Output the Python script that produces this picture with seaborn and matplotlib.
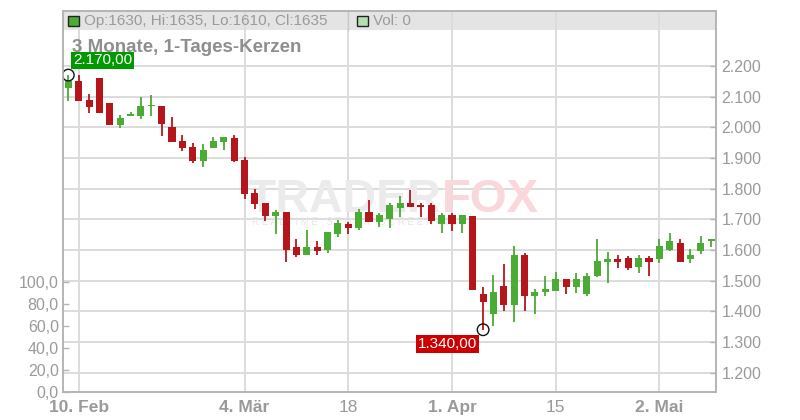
import numpy as np
import pandas as pd
import matplotlib
matplotlib.use("Agg")
import matplotlib.pyplot as plt
from matplotlib.patches import Rectangle
import seaborn as sns

opens = [2129, 2151, 2089, 2161, 2079, 2009, 2038, 2038, 2068, 2070,
         2002, 1955, 1936, 1890, 1934, 1953, 1964, 1893, 1786, 1752,
         1712, 1723, 1610, 1582, 1610, 1601, 1652, 1685, 1673, 1723,
         1692, 1702, 1738, 1753, 1745, 1745, 1686, 1715, 1686, 1712,
         1457, 1392, 1481, 1421, 1583, 1451, 1462, 1467, 1505, 1480,
         1458, 1516, 1562, 1571, 1574, 1546, 1574, 1572, 1601, 1623,
         1572, 1598, 1630]
highs = [2170, 2170, 2109, 2161, 2079, 2040, 2051, 2099, 2105, 2070,
         2032, 1975, 1949, 1945, 1968, 1968, 1975, 1902, 1799, 1752,
         1730, 1723, 1637, 1666, 1629, 1659, 1697, 1692, 1735, 1762,
         1720, 1754, 1776, 1796, 1752, 1752, 1722, 1722, 1715, 1712,
         1479, 1517, 1554, 1612, 1591, 1473, 1515, 1528, 1505, 1525,
         1525, 1636, 1592, 1584, 1580, 1584, 1580, 1636, 1655, 1636,
         1603, 1645, 1635]
lows = [2087, 2087, 2048, 2048, 2009, 1998, 2038, 2028, 2037, 1973,
        1953, 1923, 1882, 1872, 1934, 1927, 1888, 1765, 1733, 1693,
        1653, 1562, 1578, 1582, 1582, 1591, 1641, 1653, 1665, 1692,
        1676, 1673, 1709, 1741, 1709, 1684, 1654, 1663, 1654, 1471,
        1340, 1353, 1402, 1366, 1402, 1392, 1451, 1467, 1456, 1461,
        1451, 1512, 1493, 1542, 1536, 1526, 1516, 1559, 1598, 1562,
        1559, 1588, 1610]
closes = [2152, 2087, 2067, 2048, 2009, 2030, 2041, 2070, 2070, 2011,
          1953, 1934, 1890, 1926, 1955, 1968, 1891, 1784, 1751, 1712,
          1723, 1599, 1582, 1610, 1598, 1659, 1687, 1673, 1723, 1692,
          1714, 1745, 1753, 1741, 1739, 1696, 1715, 1684, 1715, 1471,
          1431, 1463, 1421, 1583, 1451, 1462, 1473, 1505, 1480, 1505,
          1515, 1564, 1571, 1562, 1542, 1574, 1562, 1613, 1629, 1562,
          1584, 1623, 1635]
volume = 0

start_day = "2025-02-07"
end_day = "2025-05-09"
holidays = ["2025-04-18", "2025-04-21", "2025-05-01"]

tick_days = ["2025-02-10", "2025-03-04", "2025-03-18", "2025-04-01", "2025-04-15", "2025-05-02"]
tick_labels = ["10. Feb", "4. Mär", "18", "1. Apr", "15", "2. Mai"]
bold_labels = ["10. Feb", "4. Mär", "1. Apr", "2. Mai"]

price_ticks = [1200, 1300, 1400, 1500, 1600, 1700, 1800, 1900, 2000, 2100, 2200]
vol_ticks = [0, 20, 40, 60, 80, 100]

title = "3 Monate, 1-Tages-Kerzen"

# Handelstage
days = pd.bdate_range(start_day, end_day)
days = days[~days.isin(pd.to_datetime(holidays))]
df = pd.DataFrame({"date": days, "open": opens, "high": highs, "low": lows, "close": closes})
df["x"] = np.arange(len(df))
df["up"] = df["close"] >= df["open"]

green = "#4aab35"
red = "#b5161b"
grey_txt = "#9a9a9a"
grid_c = "#dcdcdc"
spine_c = "#b4b4b4"

sns.set_style("white")
plt.rcParams["font.family"] = ["Liberation Sans", "DejaVu Sans"]

fig = plt.figure(figsize=(8, 4.2), dpi=100)
W, H = 800, 420
ax = fig.add_axes([63 / W, 1 - 392 / H, (716 - 63) / W, (392 - 11) / H])
ax2 = ax.twinx()  # Volumen-Achse (links)

# Kerzen
cols = np.where(df["up"], green, red)
ax.vlines(df["x"], df["low"], df["high"], colors=cols, linewidth=1.3, zorder=3)
body = np.maximum((df["close"] - df["open"]).abs(), 5)
ax.bar(df["x"], body, bottom=np.minimum(df["open"], df["close"]),
       width=0.68, color=cols, linewidth=0, zorder=4)

ax.set_xlim(-0.51, 62.46)
ax.set_ylim(1137, 2379)

# Preis-Achse rechts
ax.yaxis.tick_right()
ax.set_yticks(price_ticks)
ax.set_yticklabels([f"{v:,}".replace(",", ".") for v in price_ticks])
tick_pos = [int(np.where(df["date"] == pd.Timestamp(d))[0][0]) for d in tick_days]
ax.set_xticks(tick_pos)
ax.set_xticklabels(tick_labels)
for lab in ax.get_xticklabels():
    lab.set_fontfamily(["Liberation Sans Narrow", "Liberation Sans"])
    if lab.get_text() in bold_labels:
        lab.set_fontweight("bold")
ax.tick_params(axis="y", direction="in", length=4, width=1, color=spine_c,
               labelcolor=grey_txt, labelsize=11.5, pad=4, right=True, left=False,
               labelright=True, labelleft=False)
ax.tick_params(axis="x", direction="out", length=4, width=1, color=spine_c,
               labelcolor=grey_txt, labelsize=12.5, pad=2)
ax.set_axisbelow(True)
ax.grid(True, color=grid_c, linewidth=1.4)
for s in ax.spines.values():
    s.set_color(spine_c)
    s.set_linewidth(1.2)
    s.set_visible(True)

# Volumen-Achse links
ax2.set_ylim(0, 345.4)
ax2.set_yticks(vol_ticks)
ax2.set_yticklabels([f"{v:.1f}".replace(".", ",") for v in vol_ticks])
ax2.tick_params(axis="y", direction="in", length=4, width=1, color=spine_c,
                labelcolor=grey_txt, labelsize=11.5, pad=3, left=True, right=False,
                labelleft=True, labelright=False)
ax2.grid(False)
for s in ax2.spines.values():
    s.set_color(spine_c)
    s.set_linewidth(1.2)

# Wasserzeichen
ax.text(248 / W, 1 - 212 / H, "TRADER", transform=fig.transFigure, fontsize=33.5,
        fontweight="bold", color="#ebebeb", zorder=1)
ax.text(442 / W, 1 - 212 / H, "FOX", transform=fig.transFigure, fontsize=34,
        fontweight="bold", color="#fad7da", zorder=1)
ax.text(252 / W, 1 - 225 / H, "R E A L T I M E   S T O C K   S C R E E N I N G",
        transform=fig.transFigure, fontsize=7, color="#e6e6e6", zorder=1)

# Kopfzeile
ax.add_patch(Rectangle((0, (392 - 30) / 381), 1, 19 / 381, transform=ax.transAxes,
                       facecolor="#e4e4e4", edgecolor="none", zorder=0.2))
ax.plot([(348 - 63) / 653] * 2, [(392 - 30) / 381, 1], transform=ax.transAxes,
        color="#c8c8c8", linewidth=1, zorder=0.6)
fig.add_artist(Rectangle((68 / W, 1 - 26 / H), 11 / W, 10 / H, transform=fig.transFigure,
                         facecolor=green, edgecolor="#222222", linewidth=1))
fig.add_artist(Rectangle((357 / W, 1 - 26 / H), 11 / W, 10 / H, transform=fig.transFigure,
                         facecolor="#b3dfb0", edgecolor="#222222", linewidth=1))
last = df.iloc[-1]
fig.text(84 / W, 1 - 21 / H,
         f"Op:{last['open']}, Hi:{last['high']}, Lo:{last['low']}, Cl:{last['close']}",
         va="center", fontsize=11, color=grey_txt)
fig.text(373 / W, 1 - 21 / H, f"Vol: {volume}", va="center", fontsize=11, color=grey_txt)
fig.text(72 / W, 1 - 47 / H, title, va="center", fontsize=13.5, fontweight="bold",
         color="#8e8e8e")

# Hoch / Tief Markierungen
i_hi = int(df["high"].idxmax())
i_lo = int(df["low"].idxmin())
ext = pd.DataFrame({"x": [i_hi, i_lo], "y": [df["high"][i_hi], df["low"][i_lo]]})
sns.scatterplot(data=ext, x="x", y="y", ax=ax, s=70, facecolor="none",
                edgecolor="#111111", linewidth=1, zorder=6, legend=False)
ax.set_xlabel("")
ax.set_ylabel("")


def fmt(v):
    return f"{v:,.2f}".replace(",", "X").replace(".", ",").replace("X", ".")


ax.annotate(fmt(df["high"][i_hi]), (i_hi, df["high"][i_hi]), xytext=(3.5, 5.5),
            textcoords="offset points", ha="left", va="bottom", fontsize=11,
            color="white", zorder=7,
            bbox=dict(boxstyle="square,pad=0.12", facecolor="#009a00", edgecolor="none"))
ax.annotate(fmt(df["low"][i_lo]), (i_lo, df["low"][i_lo]), xytext=(-4.5, -5),
            textcoords="offset points", ha="right", va="top", fontsize=11,
            color="white", zorder=7,
            bbox=dict(boxstyle="square,pad=0.12", facecolor="#cc0000", edgecolor="none"))

fig.savefig("out.png", dpi=100)
